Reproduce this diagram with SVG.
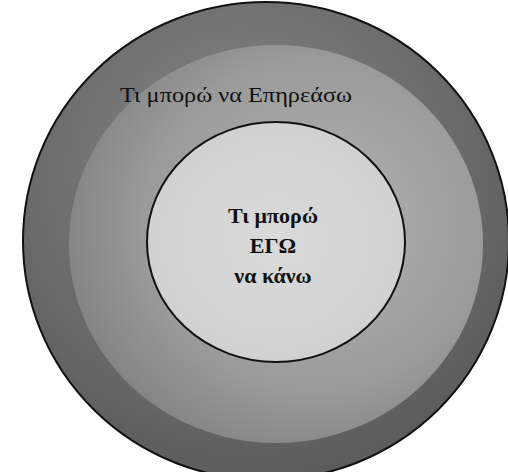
<svg xmlns="http://www.w3.org/2000/svg" width="508" height="472" viewBox="0 0 508 472">
<defs>
<radialGradient id="gOuter" cx="0.45" cy="0.35" r="0.65">
<stop offset="0" stop-color="#8a8a8a"/>
<stop offset="0.6" stop-color="#6e6e6e"/>
<stop offset="1" stop-color="#5c5c5c"/>
</radialGradient>
<radialGradient id="gMid" cx="0.6" cy="0.45" r="0.7">
<stop offset="0" stop-color="#b4b4b4"/>
<stop offset="0.6" stop-color="#9a9a9a"/>
<stop offset="1" stop-color="#7a7a7a"/>
</radialGradient>
<radialGradient id="gInner" cx="0.5" cy="0.5" r="0.6">
<stop offset="0" stop-color="#dadada"/>
<stop offset="1" stop-color="#cfcfcf"/>
</radialGradient>
<style>
.lbl{font-family:"Liberation Serif","DejaVu Serif",serif;fill:#111}
.in{font-size:22px;font-weight:bold;text-anchor:middle}
.out{font-size:21px}
</style>
</defs>
<rect width="508" height="472" fill="#ffffff"/>
<g id="outer">
<ellipse cx="266" cy="241" rx="243" ry="239" fill="url(#gOuter)" stroke="#111" stroke-width="2"/>
</g>
<g id="middle">
<ellipse cx="276" cy="244" rx="207" ry="199" fill="url(#gMid)"/>
</g>
<g id="outer-label">
<text class="lbl out" x="120" y="102" textLength="232" lengthAdjust="spacingAndGlyphs">Τι μπορώ να Επηρεάσω</text>
</g>
<g id="inner">
<ellipse cx="276" cy="242" rx="129" ry="120" fill="url(#gInner)" stroke="#111" stroke-width="2"/>
<text class="lbl in" x="273" y="223">Τι μπορώ</text>
<text class="lbl in" x="273" y="253">ΕΓΩ</text>
<text class="lbl in" x="273" y="283">να κάνω</text>
</g>
<g id="connectors"/>
</svg>
